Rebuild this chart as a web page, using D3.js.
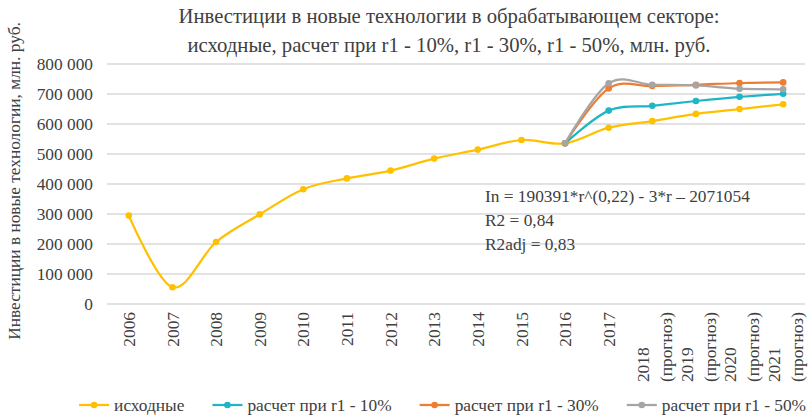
<!DOCTYPE html>
<html><head><meta charset="utf-8">
<script src="https://cdn.jsdelivr.net/npm/d3@7"></script>
</head><body>
<svg id="c" width="810" height="415" font-family="Liberation Serif" style="position:absolute;left:0;top:0;background:#fff"></svg>
<script>
const categories = ["2006","2007","2008","2009","2010","2011","2012","2013","2014","2015","2016","2017",
  "2018\n(прогноз)","2019\n(прогноз)","2020\n(прогноз)","2021\n(прогноз)"];
const yTicks = [0,100000,200000,300000,400000,500000,600000,700000,800000];
const seriesNames = ["исходные","расчет при r1 - 10%","расчет при r1 - 30%","расчет при r1 - 50%"];
const ishodnye = [293000,54000,205000,297000,381000,417000,443000,483000,513000,545000,534000,586000,608000,632000,648000,664000];
const r10 = [null,null,null,null,null,null,null,null,null,null,534000,643000,659000,675000,689000,699000];
const r30 = [null,null,null,null,null,null,null,null,null,null,534000,717000,725000,729000,735000,737000];
const r50 = [null,null,null,null,null,null,null,null,null,null,534000,734000,729000,727000,716000,714000];
const titleLines = ["Инвестиции в новые технологии в обрабатывающем секторе:",
  "исходные, расчет при r1 - 10%, r1 - 30%, r1 - 50%, млн. руб."];
const yTitle = "Инвестиции в новые технологии, млн. руб.";
const annotation = ["In = 190391*r^(0,22) - 3*r – 2071054","R2 = 0,84","R2adj = 0,83"];

const colors = ["#FFC000","#1FB5C7","#ED7D31","#A5A5A5"];
const allSeries = [ishodnye, r10, r30, r50];
const FONT = "'Liberation Serif'";
const TXT = "#404040";
const FS = 17.33;

function ff(sel) {
  return sel.attr("font-family", "Liberation Serif").style("font-family", FONT, "important").attr("fill", TXT);
}

const svg = d3.select("#c").style("font-family", FONT, "important");
const pLeft = 107, pRight = 805, pTop = 63.5, pBottom = 303.5;

const x = d3.scalePoint().domain(categories).range([pLeft, pRight]).padding(0.5);
const y = d3.scaleLinear().domain([0, 800000]).range([pBottom, pTop]);

// gridlines + y tick labels
const yAxis = d3.axisLeft(y).tickValues(yTicks).tickSize(-(pRight-pLeft)).tickPadding(14)
  .tickFormat(d => d3.format(",")(d).replace(/,/g, " "));
const gy = svg.append("g").attr("transform", `translate(${pLeft},0)`).call(yAxis);
gy.attr("font-family", "Liberation Serif").attr("font-size", FS).style("font-family", FONT, "important");
gy.select(".domain").remove();
gy.selectAll(".tick line").attr("stroke", "#d9d9d9").attr("stroke-width", 1.3);
ff(gy.selectAll(".tick text")).attr("font-size", FS);

// x labels
const xAxis = d3.axisBottom(x).tickSize(0).tickFormat("");
const gx = svg.append("g").attr("transform", `translate(0,${pBottom})`).call(xAxis);
gx.select(".domain").remove();
const labG = svg.append("g");
categories.forEach(c => {
  const lines = c.split("\n");
  const g = labG.append("g");
  const texts = lines.map(ln => ff(g.append("text").text(ln)).attr("font-size", FS));
  const lens = texts.map(t => t.node().getComputedTextLength());
  const blk = d3.max(lens);
  const lh = 23;
  texts.forEach((t, i) => {
    const cx = x(c) + (i - (lines.length - 1) / 2) * lh + (lines.length > 1 ? 2 : 0);
    const yStart = 312 + blk;
    t.attr("text-anchor", "start").attr("dy", "0.35em")
      .attr("transform", `translate(${cx},${yStart}) rotate(-90)`);
  });
});

// lines
const line = d3.line().defined(d => d.v != null).x(d => x(d.c)).y(d => y(d.v))
  .curve(d3.curveCardinal.tension(0));
allSeries.forEach((s, k) => {
  const data = s.map((v, i) => ({c: categories[i], v}));
  svg.append("path").datum(data).attr("fill", "none").attr("stroke", colors[k])
    .attr("stroke-width", 2.25).attr("stroke-linecap", "round").attr("d", line);
  svg.append("g").selectAll("circle").data(data.filter(d => d.v != null)).join("circle")
    .attr("cx", d => x(d.c)).attr("cy", d => y(d.v)).attr("r", 3.3).attr("fill", colors[k]);
});

// title
ff(svg.append("g").selectAll("text").data(titleLines).join("text"))
  .attr("x", 449).attr("y", (d, i) => 23 + i * 29).attr("text-anchor", "middle")
  .attr("font-size", 20.7).text(d => d);

// y title
ff(svg.append("text")).attr("transform", "translate(14,181) rotate(-90)").attr("dy", "0.35em")
  .attr("text-anchor", "middle").attr("font-size", FS).text(yTitle);

// annotation
ff(svg.append("g").selectAll("text").data(annotation).join("text"))
  .attr("x", 485).attr("y", (d, i) => 202 + i * 24).attr("font-size", FS).text(d => d);

// legend
const lg = svg.append("g");
const groups = [], widths = [];
seriesNames.forEach((n, k) => {
  const g = lg.append("g");
  g.append("line").attr("x1", 0).attr("x2", 30).attr("y1", 0).attr("y2", 0)
    .attr("stroke", colors[k]).attr("stroke-width", 2.25);
  g.append("circle").attr("cx", 15).attr("cy", 0).attr("r", 3.3).attr("fill", colors[k]);
  const t = ff(g.append("text")).attr("x", 35).attr("dy", "0.35em").attr("font-size", FS).text(n);
  groups.push(g);
  widths.push(35 + t.node().getComputedTextLength());
});
const sumW = d3.sum(widths);
const gap = Math.min(28, (800 - sumW) / 3);
let lx = 0;
groups.forEach((g, i) => { g.attr("transform", `translate(${lx},405)`); lx += widths[i] + gap; });
const totalW = lx - gap;
const startX = Math.max(4, Math.min(449 - totalW / 2, 806 - totalW));
lg.attr("transform", `translate(${startX},0)`);
</script>
</body></html>
